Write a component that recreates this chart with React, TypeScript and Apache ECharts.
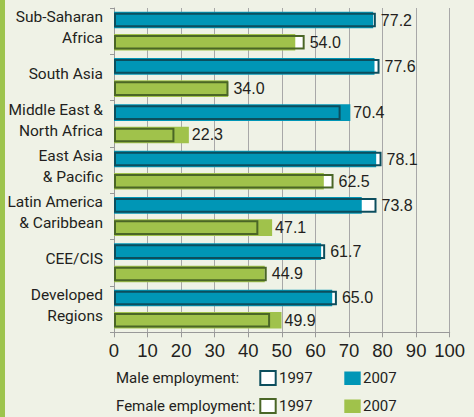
import React, { useEffect, useRef } from "react";
import * as echarts from "echarts";

const regions = [
  "Sub-Saharan\nAfrica",
  "South Asia",
  "Middle East &\nNorth Africa",
  "East Asia\n& Pacific",
  "Latin America\n& Caribbean",
  "CEE/CIS",
  "Developed\nRegions",
];
const male1997 = [78.0, 79.1, 67.5, 79.7, 78.2, 62.9, 66.4];
const male2007 = [77.2, 77.6, 70.4, 78.1, 73.8, 61.7, 65.0];
const female1997 = [56.8, 34.1, 18.0, 65.4, 43.0, 45.5, 46.5];
const female2007 = [54.0, 34.0, 22.3, 62.5, 47.1, 44.9, 49.9];
const xMin = 0;
const xMax = 100;
const xInterval = 10;
const legendRows = ["Male employment:", "Female employment:"];
const legendYears = ["1997", "2007"];

const TEAL = "#0096B6";
const TEAL_DARK = "#0C4E5D";
const GREEN = "#A0C24B";
const GREEN_DARK = "#4A6626";
const BG = "#EFF2E6";
const STRIPE = "#9DC44D";
const TEXT = "#231F20";
const GRID = "#A8A8A8";
const NARROW = "Roboto, 'Liberation Sans', sans-serif";
const SANS = "'Liberation Sans', Arial, sans-serif";

const OUT_W = 14.6; // rect width of outlined bars (plus 2px border => 16.6)
const FILL_W = 16.6;
const CENTER_STEP = 22.3;

export default function App() {
  const ref = useRef<HTMLDivElement>(null);
  useEffect(() => {
    const chart = echarts.init(ref.current!, null, { renderer: "svg" });
    const hiddenCat = () => ({
      type: "category",
      data: regions,
      inverse: true,
      show: false,
    });
    const outGap = ((CENTER_STEP - OUT_W) / OUT_W) * 100 + "%";
    const fillGap = ((CENTER_STEP - FILL_W) / FILL_W) * 100 + "%";
    const valueLabel = (distance: number) => ({
      position: "right",
      distance,
      fontFamily: SANS,
      fontSize: 16,
      color: TEXT,
    });
    const whiteSeries = (vals: number[]) => ({
      type: "bar",
      yAxisIndex: 0,
      barWidth: OUT_W,
      barGap: outGap,
      data: vals,
      itemStyle: { color: "#ffffff" },
      z: 2,
      silent: true,
    });
    const fillSeries = (vals: number[], other: number[], color: string) => ({
      type: "bar",
      yAxisIndex: 1,
      barWidth: FILL_W,
      barGap: fillGap,
      data: vals.map((v, i) => ({ value: v, label: { show: v >= other[i] } })),
      itemStyle: { color },
      label: { ...valueLabel(3), formatter: (p: any) => Number(p.value).toFixed(1) },
      z: 3,
      silent: true,
    });
    const borderSeries = (vals: number[], other: number[], color: string) => ({
      type: "bar",
      yAxisIndex: 2,
      barWidth: OUT_W,
      barGap: outGap,
      data: vals.map((v, i) => ({
        value: v,
        label: { show: v > other[i], formatter: other[i].toFixed(1) },
      })),
      itemStyle: { color: "rgba(0,0,0,0)", borderColor: color, borderWidth: 2 },
      label: valueLabel(5),
      z: 4,
      silent: true,
    });

    const legendFont = { fontFamily: NARROW, fontSize: 15, fill: TEXT, verticalAlign: "middle" };
    const rowY = [378, 406];
    const legendGraphics: any[] = [];
    legendRows.forEach((name, r) => {
      const dark = r === 0 ? TEAL_DARK : GREEN_DARK;
      const fill = r === 0 ? TEAL : GREEN;
      legendGraphics.push({ type: "text", x: 116, y: rowY[r], style: { text: name, ...legendFont } });
      legendGraphics.push({
        type: "rect",
        shape: { x: 260.3, y: rowY[r] - 7, width: 15.4, height: 14 },
        style: { fill: "#ffffff", stroke: dark, lineWidth: 2 },
      });
      legendGraphics.push({ type: "text", x: 279, y: rowY[r], style: { text: legendYears[0], ...legendFont } });
      legendGraphics.push({
        type: "rect",
        shape: { x: 344.3, y: rowY[r] - 6.5, width: 16.4, height: 13.5 },
        style: { fill },
      });
      legendGraphics.push({ type: "text", x: 363, y: rowY[r], style: { text: legendYears[1], ...legendFont } });
    });

    chart.setOption({
      animation: false,
      backgroundColor: BG,
      grid: { left: 114, right: 24.3, top: 8, bottom: 84.7, containLabel: false, outerBoundsMode: "none" },
      xAxis: {
        type: "value",
        min: xMin,
        max: xMax,
        interval: xInterval,
        axisLine: { show: true, lineStyle: { color: "#999999", width: 1 } },
        axisTick: { show: true, length: 5, lineStyle: { color: "#999999" } },
        splitLine: { show: true, lineStyle: { color: GRID, width: 1 } },
        axisLabel: { fontFamily: SANS, fontSize: 18.5, color: TEXT, margin: 9 },
      },
      yAxis: [
        {
          type: "category",
          data: regions,
          inverse: true,
          axisLine: { show: true, lineStyle: { color: "#999999", width: 1 } },
          axisTick: { show: true, length: 4, lineStyle: { color: "#999999" } },
          axisLabel: {
            fontFamily: NARROW,
            fontSize: 15.5,
            color: TEXT,
            margin: 11,
            lineHeight: 21,
            formatter: (v: string) => v + "\n{s| }",
            rich: { s: { fontSize: 1, lineHeight: 7 } },
          },
        },
        hiddenCat(),
        hiddenCat(),
      ],
      series: [
        whiteSeries(male1997),
        whiteSeries(female1997),
        fillSeries(male2007, male1997, TEAL),
        fillSeries(female2007, female1997, GREEN),
        borderSeries(male1997, male2007, TEAL_DARK),
        borderSeries(female1997, female2007, GREEN_DARK),
      ],
      graphic: [
        { type: "rect", shape: { x: 0, y: 0, width: 5, height: 417 }, style: { fill: STRIPE } },
        ...legendGraphics,
      ],
    });
    return () => chart.dispose();
  }, []);
  return <div ref={ref} style={{ position: "fixed", left: 0, top: 0, width: 474, height: 417 }} />;
}
